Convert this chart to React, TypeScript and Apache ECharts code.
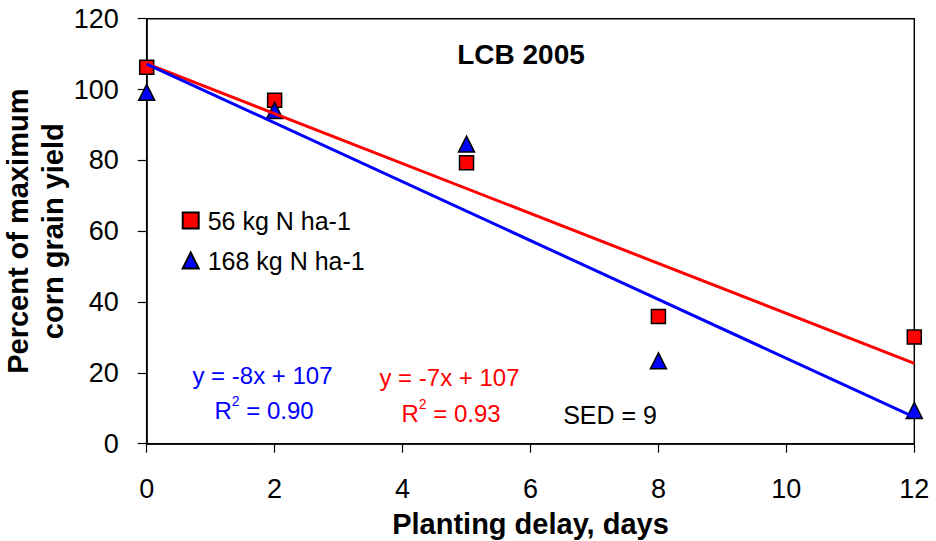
import React, { useEffect, useRef } from "react";
import * as echarts from "echarts";

const days = [0, 2, 5, 8, 12];
const n56 = [106.3, 97.0, 79.3, 35.9, 30.1];
const n168 = [99.2, 94.1, 84.6, 23.4, 9.4];
const trendX = [0, 12];
const trend56 = [107.3, 22.7];
const trend168 = [107.2, 7.5];
const xTicks = [0, 2, 4, 6, 8, 10, 12];
const yTicks = [0, 20, 40, 60, 80, 100, 120];
const seriesNames = ["56 kg N ha-1", "168 kg N ha-1"];

const FONT = "'Liberation Sans', Arial, Helvetica, sans-serif";

export default function App() {
  const ref = useRef<HTMLDivElement>(null);
  useEffect(() => {
    if (!ref.current) return;
    const chart = echarts.init(ref.current, undefined, { renderer: "svg" });
    const pts = (xs: number[], ys: number[]) => xs.map((x, i) => [x, ys[i]]);
    const tickLabel = (margin: number) => ({
      show: true,
      margin,
      color: "#000",
      fontSize: 27,
      fontFamily: FONT,
      formatter: "{t|{value}}",
      rich: { t: { fontSize: 27, fontFamily: FONT, color: "#000", lineHeight: 30 } },
    });
    chart.setOption({
      animation: false,
      backgroundColor: "#ffffff",
      textStyle: { fontFamily: FONT },
      grid: {
        left: 146.7,
        right: 21.7,
        top: 18.7,
        bottom: 97.3,
        show: true,
        borderColor: "#000",
        borderWidth: 1.5,
        containLabel: false,
        outerBoundsMode: "none",
      },
      legend: {
        orient: "vertical",
        left: 181.7,
        top: 207.5,
        padding: 0,
        data: seriesNames,
        itemWidth: 16,
        itemHeight: 16,
        itemGap: 14,
        selectedMode: false,
        textStyle: {
          fontSize: 25,
          color: "#000",
          fontFamily: FONT,
          lineHeight: 26,
          padding: [0, 0, 0, 4],
        },
      },
      xAxis: {
        type: "value",
        min: xTicks[0],
        max: xTicks[xTicks.length - 1],
        interval: 2,
        name: "Planting delay, days",
        nameLocation: "middle",
        nameGap: 66,
        nameMoveOverlap: false,
        nameTextStyle: { fontSize: 29, fontWeight: "bold", color: "#000", fontFamily: FONT },
        axisLine: { show: true, onZero: false, lineStyle: { color: "#000", width: 1.5 } },
        axisTick: { show: true, inside: false, length: 9, lineStyle: { color: "#000", width: 1.2 } },
        axisLabel: tickLabel(30),
        splitLine: { show: false },
      },
      yAxis: {
        type: "value",
        min: yTicks[0],
        max: yTicks[yTicks.length - 1],
        interval: 20,
        name: "Percent of maximum\ncorn grain yield",
        nameLocation: "middle",
        nameRotate: 90,
        nameGap: 76,
        nameMoveOverlap: false,
        nameTextStyle: {
          fontSize: 29,
          fontWeight: "bold",
          color: "#000",
          fontFamily: FONT,
          lineHeight: 35,
        },
        axisLine: { show: true, lineStyle: { color: "#000", width: 1.5 } },
        axisTick: { show: true, inside: false, length: 9, lineStyle: { color: "#000", width: 1.2 } },
        axisLabel: tickLabel(28),
        splitLine: { show: false },
      },
      series: [
        {
          name: seriesNames[0],
          type: "scatter",
          symbol: "rect",
          symbolSize: 14,
          z: 2,
          itemStyle: { color: "#ff0000", borderColor: "#000", borderWidth: 1.5, opacity: 1 },
          data: pts(days, n56),
        },
        {
          name: seriesNames[1],
          type: "scatter",
          symbol: "triangle",
          symbolSize: 16,
          z: 2,
          itemStyle: { color: "#0000ff", borderColor: "#000", borderWidth: 1.5, opacity: 1 },
          data: pts(days, n168),
        },
        {
          name: "trend56",
          type: "line",
          showSymbol: false,
          symbol: "none",
          z: 3,
          lineStyle: { color: "#ff0000", width: 3 },
          data: pts(trendX, trend56),
        },
        {
          name: "trend168",
          type: "line",
          showSymbol: false,
          symbol: "none",
          z: 3,
          lineStyle: { color: "#0000ff", width: 3 },
          data: pts(trendX, trend168),
        },
      ],
      graphic: [
        {
          type: "text",
          x: 521,
          y: 54,
          style: {
            text: "LCB 2005",
            font: `bold 28px ${FONT}`,
            fill: "#000",
            align: "center",
            verticalAlign: "middle",
          },
        },
        {
          type: "text",
          x: 262.5,
          y: 375,
          style: {
            text: "y = -8x + 107",
            font: `24px ${FONT}`,
            fill: "#0000ff",
            align: "center",
            verticalAlign: "middle",
          },
        },
        {
          type: "text",
          x: 264,
          y: 408,
          style: {
            text: "{r|R}{s|2}{r| = 0.90}",
            fill: "#0000ff",
            align: "center",
            verticalAlign: "middle",
            rich: {
              r: { fontSize: 24, fontFamily: FONT, fill: "#0000ff", lineHeight: 28, verticalAlign: "bottom" },
              s: { fontSize: 14, fontFamily: FONT, fill: "#0000ff", lineHeight: 14, verticalAlign: "top" },
            },
          },
        },
        {
          type: "text",
          x: 449.5,
          y: 377,
          style: {
            text: "y = -7x + 107",
            font: `24px ${FONT}`,
            fill: "#ff0000",
            align: "center",
            verticalAlign: "middle",
          },
        },
        {
          type: "text",
          x: 451,
          y: 411,
          style: {
            text: "{r|R}{s|2}{r| = 0.93}",
            fill: "#ff0000",
            align: "center",
            verticalAlign: "middle",
            rich: {
              r: { fontSize: 24, fontFamily: FONT, fill: "#ff0000", lineHeight: 28, verticalAlign: "bottom" },
              s: { fontSize: 14, fontFamily: FONT, fill: "#ff0000", lineHeight: 14, verticalAlign: "top" },
            },
          },
        },
        {
          type: "text",
          x: 657,
          y: 415,
          style: {
            text: "SED = 9",
            font: `25px ${FONT}`,
            fill: "#000",
            align: "right",
            verticalAlign: "middle",
          },
        },
      ],
    });
    return () => chart.dispose();
  }, []);
  return (
    <div
      ref={ref}
      style={{ position: "fixed", left: 0, top: 0, width: 936, height: 541, background: "#fff" }}
    />
  );
}
